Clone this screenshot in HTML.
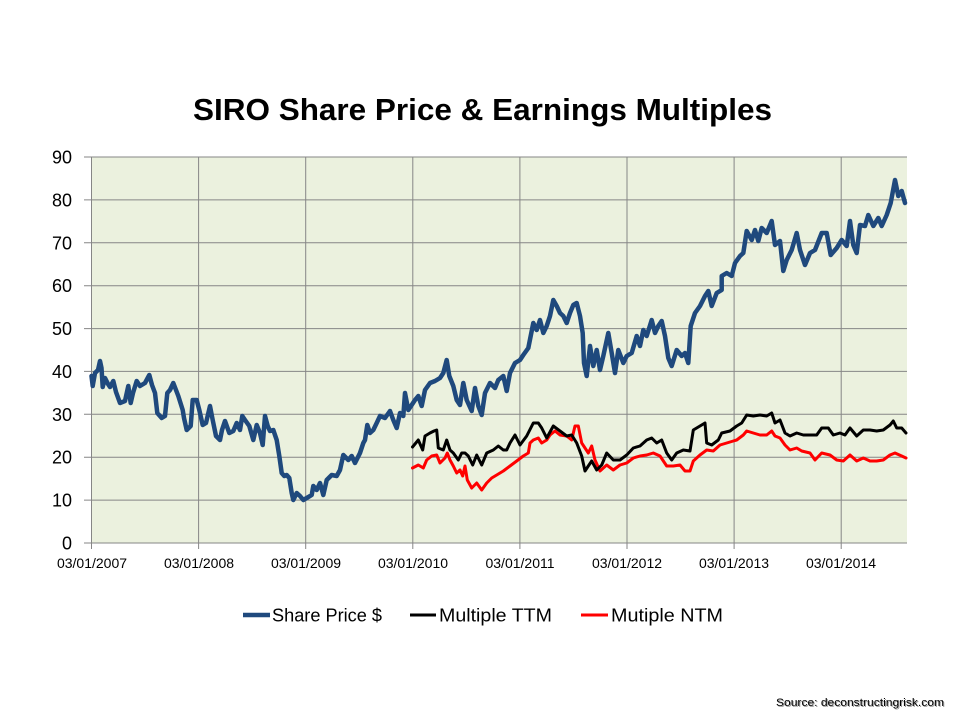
<!DOCTYPE html>
<html>
<head>
<meta charset="utf-8">
<style>
html,body{margin:0;padding:0;background:#fff;}
svg{display:block;}
</style>
</head>
<body>
<svg width="960" height="720" viewBox="0 0 960 720" xmlns="http://www.w3.org/2000/svg">
<rect x="0" y="0" width="960" height="720" fill="#ffffff"/>
<text x="193" y="120" font-family="Liberation Sans, sans-serif" font-weight="bold" font-size="31" fill="#000" textLength="579" lengthAdjust="spacingAndGlyphs">SIRO Share Price &amp; Earnings Multiples</text>

<rect x="91.5" y="157" width="815.5" height="386" fill="#EBF1DE"/>
<g stroke="#868686" stroke-width="1" fill="none">
<line x1="84" y1="157" x2="907" y2="157"/>
<line x1="84" y1="199.9" x2="907" y2="199.9"/>
<line x1="84" y1="242.8" x2="907" y2="242.8"/>
<line x1="84" y1="285.7" x2="907" y2="285.7"/>
<line x1="84" y1="328.6" x2="907" y2="328.6"/>
<line x1="84" y1="371.4" x2="907" y2="371.4"/>
<line x1="84" y1="414.3" x2="907" y2="414.3"/>
<line x1="84" y1="457.2" x2="907" y2="457.2"/>
<line x1="84" y1="500.1" x2="907" y2="500.1"/>
<line x1="84" y1="543" x2="907" y2="543"/>
<line x1="91.5" y1="157" x2="91.5" y2="549"/>
<line x1="198.6" y1="157" x2="198.6" y2="549"/>
<line x1="305.7" y1="157" x2="305.7" y2="549"/>
<line x1="412.8" y1="157" x2="412.8" y2="549"/>
<line x1="519.9" y1="157" x2="519.9" y2="549"/>
<line x1="627" y1="157" x2="627" y2="549"/>
<line x1="734.1" y1="157" x2="734.1" y2="549"/>
<line x1="841.2" y1="157" x2="841.2" y2="549"/>
</g>

<g font-family="Liberation Sans, sans-serif" font-size="18" fill="#000" text-anchor="end">
<text x="72" y="163.5">90</text>
<text x="72" y="206.4">80</text>
<text x="72" y="249.3">70</text>
<text x="72" y="292.2">60</text>
<text x="72" y="335.1">50</text>
<text x="72" y="377.9">40</text>
<text x="72" y="420.8">30</text>
<text x="72" y="463.7">20</text>
<text x="72" y="506.6">10</text>
<text x="72" y="549.5">0</text>
</g>

<g font-family="Liberation Sans, sans-serif" font-size="14" fill="#000" text-anchor="middle">
<text x="92" y="568">03/01/2007</text>
<text x="199" y="568">03/01/2008</text>
<text x="306" y="568">03/01/2009</text>
<text x="413" y="568">03/01/2010</text>
<text x="520" y="568">03/01/2011</text>
<text x="627" y="568">03/01/2012</text>
<text x="734" y="568">03/01/2013</text>
<text x="841" y="568">03/01/2014</text>
</g>

<polyline fill="none" stroke="#FF0000" stroke-width="3" stroke-linejoin="round" stroke-linecap="round" points="412.5,468 418.3,465 423.3,468 426.7,460 431.7,456 436.7,455 440,463 445,458 447.3,453 450,460 453.3,466 456.7,473 460,470 462.7,476 465,466 467.3,480 471.7,488 476.7,483 481.7,490 486.7,483 491.7,478 496.7,475 503.3,471 510,466 516.7,461 523.3,456 528.3,453 530,443 533.3,440 538.3,438 541.7,443 546.7,440 550,435 555,431 560,435 566.7,436 571.7,440 575,426 578.3,426 581.7,443 585,448 588.3,453 591.7,446 595,460 600,471 606.7,465 613.3,470 620,465 626.7,463 633.3,458 640,456 646.7,455 653.3,453 660,456 666.7,466 673.3,466 680,465 685,471 690,471 693.3,461 700,455 706.7,450 713.3,451 720,445 726.7,443 733.3,441 736.7,440 743.3,435 746.7,431 753.3,433 760,435 766.7,435 771.7,431 775,436 780,438 785,445 790,450 796.7,448 801.7,451 810,453 815,460 821.7,453 830,455 836.7,460 843.3,461 850,455 856.7,461 863.3,458 870,461 876.7,461 883.3,460 890,455 895,453 901.7,456 906,458"/>

<polyline fill="none" stroke="#000000" stroke-width="3" stroke-linejoin="round" stroke-linecap="round" points="412.5,447 418.3,440 422.7,450 425,436 430,433 434,431 436.7,430 438.3,448 443.3,450 446.7,440 450,450 453.3,453 458.3,460 461.7,453 465,453 468.3,456 472.7,465 476.7,455 481.7,465 486.7,453 493.3,450 498.3,446 503.3,450 506.7,450 510,443 515,435 520,445 526.7,436 533.3,423 538.3,423 541.7,428 546.7,438 553.3,426 560,431 566.7,436 571.7,435 576.7,443 581.7,456 585,471 588.3,466 591.7,461 596.7,470 601.7,465 606.7,453 613.3,460 620,460 626.7,455 633.3,448 640,446 646.7,440 651.7,438 656.7,443 661.7,440 666.7,453 671.7,460 676.7,453 683.3,450 690,451 693.3,430 700,426 705,423 706.7,443 711.7,445 718.3,440 721.7,433 730,431 736.7,426 741.7,423 746.7,415 753.3,416 760,415 766.7,416 771.7,413 775,423 780,420 785,433 790,436 796.7,433 803.3,435 810,435 816.7,435 821.7,428 828.3,428 833.3,435 840,433 845,435 850,428 856.7,436 863.3,430 870,430 876.7,431 883.3,430 890,425 893.3,421 896.7,428 901.7,428 906,433"/>

<polyline fill="none" stroke="#1F497D" stroke-width="4.5" stroke-linejoin="round" stroke-linecap="round" points="91.5,376 92.7,386 95,373 98,370 100,361 101.5,368 102.7,387 105,378 108,384 110,387 113.3,381 116,392 120,403 125,401 128.3,386 130.7,403 133,393 136.7,381 140,386 145,383 149.3,375 152,385 155,393 157.3,413 161.7,418 165,416 167.3,393 170,390 173.3,383 176,390 178.3,396 182.7,410 184,418 186.7,430 190.7,426 192.7,400 196.7,400 199.3,410 202.7,425 206,423 210,406 212.7,420 216,436 220,440 222,430 225,421 229.3,433 233.3,431 236.7,423 240,430 242.3,416 245,420 249.3,426 253.3,440 256.7,425 260,433 262.7,445 265,416 267.7,426 270,431 273.3,430 276.7,440 279.3,456 281.7,473 284.3,476 286.7,475 289.3,478 291.7,493 293.3,500 296.7,493 300,496 303.3,500 306.7,498 311.7,495 313.3,486 316.7,490 320,483 323.3,495 326.7,480 331.7,475 336.7,476 340,470 343.3,455 348.3,460 351.7,456 355,463 360,453 363.3,443 365,440 367.3,425 370,433 373.3,430 376.7,423 380,416 385,418 390,411 393.3,420 396.7,428 400,413 403.3,416 405,393 408.3,410 411.7,405 415,400 418.3,396 421.7,406 425,390 430,383 435,381 440,378 443.3,373 446.7,360 449.3,376 453.3,386 456.7,400 460,405 463.3,383 466.7,400 471.7,411 475,388 478.3,406 481.7,415 485,393 490,383 495,388 498.3,380 503.3,376 506.7,391 510,373 515,363 520,360 523.3,355 528.3,348 533.3,323 536.7,330 540,320 543.3,333 546.7,326 550,316 553.3,300 556.7,306 560,313 563.3,316 566.7,323 570,313 573.3,305 576.7,303 580,316 582.7,333 584,363 586.7,376 590,346 593.3,366 596.7,350 600,370 603.3,356 608.3,333 611.7,353 615,373 618.3,350 623.3,363 626.7,356 631.7,353 636.7,336 640,346 643.3,330 646.7,336 651.7,320 655,333 658.3,326 661.7,321 665,336 668.3,358 671.7,366 676.7,350 681.7,356 685,353 688.3,363 690.7,326 695,313 700,306 705,296 708.3,291 711.7,306 716.7,293 721.7,290 721.7,276 726.7,273 731.7,276 735,263 740,256 743.3,253 746.7,231 751.7,240 755,230 758.3,241 761.7,228 766.7,233 771.7,221 775,245 780,241 783.3,271 786.7,260 791.7,250 796.7,233 800,250 805,265 810,253 815,250 821.7,233 826.7,233 830.7,255 836.7,248 841.7,240 846.7,246 850,221 853.3,245 856.7,253 860,225 865,226 868.3,215 873.3,226 878.3,218 881.7,226 886.7,215 890.7,203 895,180 898.3,196 901.7,191 905,203"/>

<line x1="243" y1="615" x2="270" y2="615" stroke="#1F497D" stroke-width="4.5"/>
<line x1="410" y1="615" x2="436" y2="615" stroke="#000000" stroke-width="3"/>
<line x1="581" y1="615" x2="608" y2="615" stroke="#FF0000" stroke-width="3"/>
<g font-family="Liberation Sans, sans-serif" font-size="18" fill="#000">
<text x="272" y="621.5" textLength="110" lengthAdjust="spacingAndGlyphs">Share Price $</text>
<text x="439" y="621.5" textLength="113" lengthAdjust="spacingAndGlyphs">Multiple TTM</text>
<text x="611" y="621.5" textLength="112" lengthAdjust="spacingAndGlyphs">Mutiple NTM</text>
</g>

<text x="777" y="707" font-family="Liberation Sans, sans-serif" font-size="11" fill="#999999" textLength="168" lengthAdjust="spacingAndGlyphs">Source: deconstructingrisk.com</text>
<text x="776" y="706" font-family="Liberation Sans, sans-serif" font-size="11" fill="#000000" textLength="168" lengthAdjust="spacingAndGlyphs">Source: deconstructingrisk.com</text>
</svg>
</body>
</html>
